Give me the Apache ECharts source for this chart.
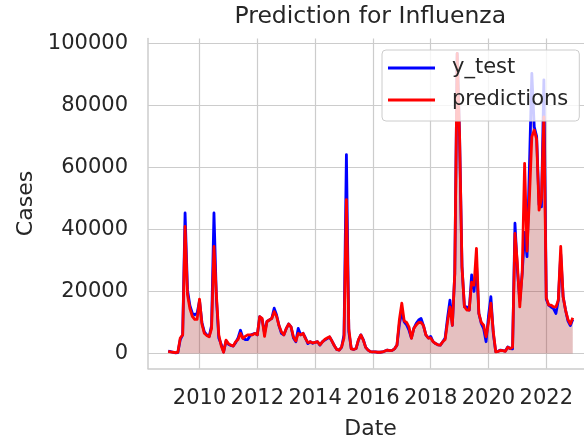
<!DOCTYPE html>
<html>
<head>
<meta charset="utf-8">
<title>Prediction for Influenza</title>
<script src="https://cdn.jsdelivr.net/npm/echarts@6/dist/echarts.min.js"></script>
<style>
  html, body { margin: 0; padding: 0; background: #fff; }
  #chart { width: 584px; height: 442px; }
</style>
</head>
<body>
<div id="chart"></div>
<script>
// monthly series, first month = Dec 2008
const firstMonth = [2008, 12];

const yTest = [
  800,
  600, 400, 200, 300, 4500, 6000, 45300, 20500, 15500, 13000, 12500, 13000,
  17000, 10000, 7000, 6000, 5500, 9000, 45300, 18000, 5000, 3000, 500, 4000,
  3000, 2600, 2400, 3500, 5000, 7500, 5000, 4500, 4500, 5800, 6200, 6500,
  6000, 11900, 11000, 6500, 10300, 10800, 11300, 14600, 12400, 9000, 6500, 6000,
  8000, 9500, 8600, 5000, 3800, 8100, 6000, 6500, 5000, 3200, 3800, 3300,
  3600, 3800, 2700, 3800, 4300, 4800, 5300, 4000, 2500, 1300, 1100, 2000,
  6000, 64100, 7000, 1600, 1300, 1600, 4300, 6000, 4500, 2000, 1100, 600,
  500, 500, 400, 400, 500, 800, 1100, 900, 1000, 1500, 2700, 9500,
  13500, 10200, 9200, 7500, 5000, 8100, 9700, 10800, 11300, 9000, 6000, 5000,
  5500, 3800, 3200, 2800, 2700, 3800, 5000, 11500, 17200, 9100, 25800, 96700,
  70000, 28000, 15100, 15000, 14000, 25300, 20000, 29000, 12900, 9700, 8000, 3800,
  12000, 18300, 6500, 600, 700, 1100, 900, 800, 2100, 1600, 1500, 42000,
  27000, 17000, 25800, 39000, 31200, 60000, 90300, 73100, 70000, 48000, 47300, 88200,
  17500, 15600, 15000, 14500, 12900, 17200, 32000, 18300, 14000, 10500, 9000, 11000
];

const predictions = [
  700,
  500, 400, 300, 400, 5000, 6000, 41000, 19000, 14500, 12000, 11000, 11000,
  17500, 9500, 6500, 5800, 5400, 8000, 34500, 19000, 6000, 2500, 400, 4300,
  3200, 2700, 2400, 3800, 4500, 6500, 4900, 5500, 6000, 6000, 6000, 6500,
  6000, 11900, 11300, 5500, 10300, 10800, 11300, 13500, 12000, 9000, 7000, 6000,
  8000, 9500, 8600, 5400, 4000, 6500, 6000, 6500, 4800, 3500, 3800, 3400,
  3600, 3800, 2800, 3700, 4500, 5000, 5400, 4000, 2500, 1300, 1100, 2100,
  5000, 49600, 8000, 1500, 1300, 1600, 4500, 6000, 4300, 2000, 1100, 600,
  500, 500, 400, 400, 500, 800, 1100, 900, 1000, 1500, 2700, 11000,
  16200, 10500, 10000, 8500, 4900, 8100, 9200, 10000, 10000, 9000, 6000, 5000,
  5000, 3800, 3200, 2800, 2700, 3800, 4500, 10200, 15000, 9100, 25800, 96700,
  70000, 28000, 15100, 14000, 14000, 23000, 22000, 33900, 12900, 10000, 9100, 5400,
  10000, 16200, 7000, 500, 700, 1000, 900, 700, 2000, 1600, 2000, 38700,
  29100, 15000, 26000, 61300, 33000, 50000, 69900, 72000, 69000, 46200, 50000, 76300,
  18000, 15600, 15600, 15000, 15000, 17200, 34500, 18300, 14000, 11000, 9500, 11500
];

const xTicks = [2010, 2012, 2014, 2016, 2018, 2020, 2022];
const yTicks = [0, 20000, 40000, 60000, 80000, 100000];

// axis limits (data range plus 5% margins, like matplotlib)
const xMin = 2008.217, xMax = 2023.617;
const yMin = -4835, yMax = 101535;

const toYear = i => firstMonth[0] + (firstMonth[1] - 1 + i) / 12;
const pairs = arr => arr.map((v, i) => [toYear(i), v]);

const font = 'DejaVu Sans';
const ink = '#262626';
const grey = '#cccccc';

const myChart = echarts.init(document.getElementById('chart'), null, { renderer: 'canvas' });

const option = {
  animation: false,
  textStyle: { fontFamily: font },
  title: {
    text: 'Prediction for Influenza',
    left: 234.5,
    top: 5,
    padding: 0,
    textStyle: { fontFamily: font, fontSize: 23.5, fontWeight: 'normal', color: ink }
  },
  legend: {
    data: ['y_test', 'predictions'],
    orient: 'vertical',
    left: 382,
    top: 50,
    padding: [7, 11, 10, 6],
    itemGap: 10,
    itemWidth: 47,
    itemHeight: 3,
    icon: 'rect',
    backgroundColor: 'rgba(255,255,255,0.8)',
    borderColor: grey,
    borderWidth: 1,
    borderRadius: 4,
    textStyle: { fontFamily: font, fontSize: 21, color: ink, lineHeight: 22, padding: [0, 0, 0, 12] }
  },
  grid: {
    left: 148,
    top: 38.5,
    width: 445,
    height: 330,
    containLabel: false,
    outerBoundsMode: 'none'
  },
  xAxis: {
    type: 'value',
    min: xMin,
    max: xMax,
    name: 'Date',
    nameLocation: 'middle',
    nameGap: 50,
    nameTextStyle: { fontFamily: font, fontSize: 22, color: ink },
    axisLine: { show: true, onZero: false, lineStyle: { color: grey, width: 1.5 } },
    axisTick: { show: false, customValues: xTicks },
    axisLabel: { customValues: xTicks, fontSize: 21, color: ink, margin: 20, formatter: v => String(v) },
    splitLine: { show: true, lineStyle: { color: grey, width: 1.2 } }
  },
  yAxis: {
    type: 'value',
    min: yMin,
    max: yMax,
    name: 'Cases',
    nameLocation: 'middle',
    nameGap: 97,
    nameTextStyle: { fontFamily: font, fontSize: 22, color: ink },
    axisLine: { show: true, onZero: false, lineStyle: { color: grey, width: 1.5 } },
    axisTick: { show: false, customValues: yTicks },
    axisLabel: { customValues: yTicks, fontSize: 21, color: ink, margin: 20, formatter: v => String(v) },
    splitLine: { show: true, lineStyle: { color: grey, width: 1.2 } }
  },
  series: [
    {
      name: 'fill',
      type: 'line',
      data: pairs(yTest),
      symbol: 'none',
      silent: true,
      z: 1,
      lineStyle: { width: 0 },
      areaStyle: { color: 'rgba(165,42,42,0.42)', origin: 0 }
    },
    {
      name: 'y_test',
      type: 'line',
      data: pairs(yTest),
      symbol: 'none',
      z: 2,
      color: '#0000ff',
      lineStyle: { color: '#0000ff', width: 2.8, join: 'round' }
    },
    {
      name: 'predictions',
      type: 'line',
      data: pairs(predictions),
      symbol: 'none',
      z: 3,
      color: '#ff0000',
      lineStyle: { color: '#ff0000', width: 2.8, join: 'round' }
    }
  ]
};

myChart.setOption(option);
window.addEventListener('resize', () => {
  myChart.resize();
});
</script>
</body>
</html>
